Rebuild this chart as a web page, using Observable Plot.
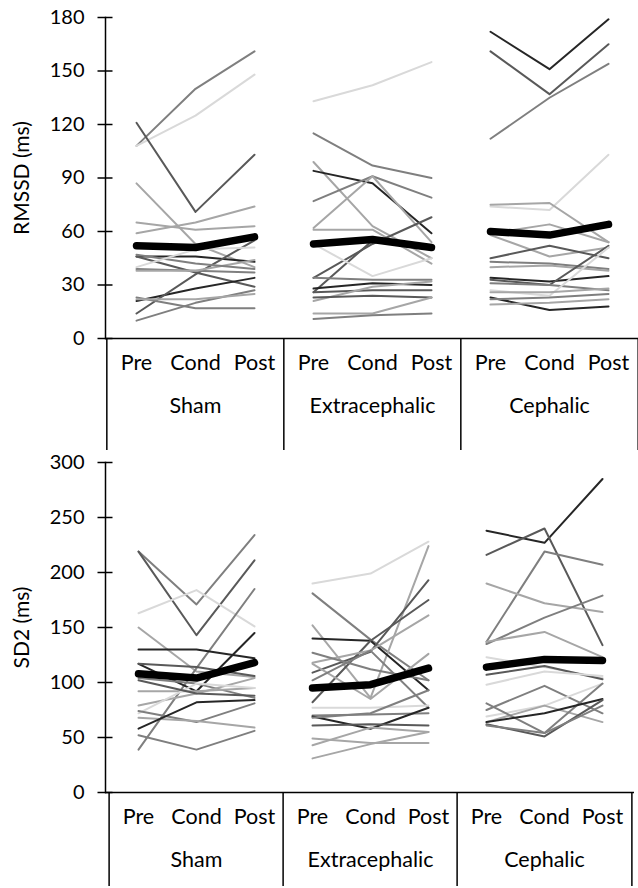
<!DOCTYPE html>
<html>
<head>
<meta charset="utf-8">
<script src="https://cdn.jsdelivr.net/npm/d3@7"></script>
<script src="https://cdn.jsdelivr.net/npm/@observablehq/plot@0.6"></script>
<style>
  html, body { margin: 0; padding: 0; background: #fff; }
  #chart svg { display: block; }
</style>
</head>
<body>
<div id="chart"></div>
<script>
// Stimulation conditions and measurement phases
const groups = ["Sham", "Extracephalic", "Cephalic"];
const phases = ["Pre", "Cond", "Post"];

// RMSSD (ms), one [Pre, Cond, Post] triple per participant
const rmssdSham = [
  [108, 140, 161], [108, 125, 148], [121, 71, 103], [87, 53, 40], [65, 61, 63],
  [59, 65, 74], [46, 46, 43], [46, 37, 29], [21, 28, 34], [14, 36, 55],
  [10, 20, 27], [23, 17, 17], [22, 22, 25], [39, 38, 37], [38, 38, 44],
  [47, 42, 39], [40, 50, 51]
];
const rmssdShamTone = ["m", "v", "d", "l", "l", "l", "k", "d", "k", "d", "m", "m", "l", "m", "l", "m", "v"];

const rmssdExtra = [
  [133, 142, 155], [115, 97, 90], [99, 63, 45], [94, 87, 59], [77, 91, 79],
  [62, 91, 54], [61, 61, 42], [34, 53, 68], [26, 55, 50], [53, 35, 45],
  [34, 33, 33], [28, 31, 30], [26, 27, 27], [21, 29, 32], [23, 24, 23],
  [14, 14, 23], [11, 13, 14]
];
const rmssdExtraTone = ["v", "m", "l", "k", "m", "l", "l", "d", "d", "v", "m", "k", "d", "l", "d", "l", "m"];

const rmssdCeph = [
  [172, 151, 179], [161, 137, 165], [112, 135, 154], [74, 72, 103], [75, 76, 54],
  [59, 64, 54], [58, 46, 51], [45, 52, 45], [43, 42, 39], [40, 41, 38],
  [34, 32, 35], [33, 30, 52], [31, 30, 27], [27, 24, 51], [23, 16, 18],
  [22, 23, 25], [19, 20, 22], [26, 26, 28]
];
const rmssdCephTone = ["k", "d", "m", "v", "l", "l", "l", "d", "m", "l", "k", "d", "m", "v", "k", "m", "l", "l"];

const rmssdMean = [[52, 51, 57], [53, 55.5, 51], [60, 58, 64]];
const rmssdTicks = [0, 30, 60, 90, 120, 150, 180];

// SD2 (ms), one [Pre, Cond, Post] triple per participant
const sd2Sham = [
  [219, 171, 234], [219, 143, 211], [163, 184, 151], [150, 110, 105], [39, 113, 185],
  [130, 130, 122], [117, 92, 145], [117, 114, 106], [104, 99, 86], [92, 92, 95],
  [79, 90, 104], [72, 99, 95], [74, 64, 81], [68, 65, 59], [52, 39, 56],
  [102, 90, 88], [58, 82, 84]
];
const sd2ShamTone = ["m", "d", "v", "l", "m", "k", "k", "d", "m", "l", "l", "v", "m", "l", "m", "d", "k"];

const sd2Extra = [
  [190, 199, 228], [181, 139, 102], [152, 86, 224], [140, 138, 93], [82, 138, 175],
  [109, 128, 193], [118, 129, 161], [127, 112, 102], [117, 85, 126], [102, 129, 77],
  [77, 77, 79], [70, 71, 72], [69, 58, 77], [61, 62, 61], [68, 72, 93],
  [43, 59, 55], [49, 45, 45], [31, 44, 55]
];
const sd2ExtraTone = ["v", "m", "l", "k", "d", "d", "l", "m", "l", "m", "v", "m", "k", "d", "m", "l", "l", "l"];

const sd2Ceph = [
  [238, 227, 285], [216, 240, 134], [137, 219, 207], [190, 172, 164], [135, 159, 179],
  [137, 146, 123], [123, 114, 104], [107, 115, 103], [98, 110, 106], [75, 97, 72],
  [69, 79, 99], [64, 79, 64], [81, 54, 99], [64, 72, 85], [62, 51, 84],
  [61, 54, 79]
];
const sd2CephTone = ["k", "d", "m", "l", "m", "l", "v", "d", "v", "m", "v", "l", "m", "k", "d", "m"];

const sd2Mean = [[108, 104, 118], [95, 98, 113], [114, 121, 120]];
const sd2Ticks = [0, 50, 100, 150, 200, 250, 300];

// Gray shades for the individual participant lines
const toneColor = { k: "#262626", d: "#595959", m: "#7f7f7f", l: "#a6a6a6", v: "#d9d9d9" };

const keys = groups.flatMap(g => phases.map(p => `${g}|${p}`));

function panel({ title, ticks, series, tones, means, height, marginTop, marginBottom, marginRight }) {
  const subjects = [];
  groups.forEach((g, gi) =>
    series[gi].forEach((vals, si) =>
      vals.forEach((v, pi) =>
        subjects.push({ key: `${g}|${phases[pi]}`, id: `${g}-${si}`, value: v, tone: tones[gi][si] }))));
  const meanRows = groups.flatMap((g, gi) =>
    means[gi].map((v, pi) => ({ key: `${g}|${phases[pi]}`, group: g, value: v })));

  const width = 638, marginLeft = 105;
  const half = (width - marginRight - marginLeft) / keys.length / 2;
  const dividerLength = marginBottom - 2;

  return Plot.plot({
    width, height, marginTop, marginBottom, marginLeft, marginRight,
    style: { fontFamily: "Lato, sans-serif", fontSize: "20px", color: "#000", background: "#fff", overflow: "visible" },
    x: { type: "point", domain: keys, padding: 0.5 },
    y: { domain: [0, ticks[ticks.length - 1]] },
    color: { type: "identity" },
    marks: [
      Plot.line(subjects, { x: "key", y: "value", z: "id", stroke: d => toneColor[d.tone], strokeWidth: 2 }),
      Plot.line(meanRows, { x: "key", y: "value", z: "group", stroke: "#000", strokeWidth: 7.5, strokeLinecap: "round", strokeLinejoin: "round" }),
      Plot.frame({ anchor: "left", stroke: "#000", strokeWidth: 1.5 }),
      Plot.ruleY([0], { stroke: "#000", strokeWidth: 1.5 }),
      Plot.axisY({ ticks, tickSize: 0, tickPadding: 21, label: null, fontSize: 20 }),
      Plot.axisY({ ticks, tickSize: 15, dx: 7.5, tickFormat: () => "", label: null, strokeWidth: 1.5 }),
      Plot.axisX({ ticks: groups.map(g => `${g}|Pre`), tickSize: dividerLength, dx: -half, tickFormat: () => "", label: null, strokeWidth: 1.5 }),
      Plot.axisX({ ticks: ["Cephalic|Post"], tickSize: dividerLength, dx: half, tickFormat: () => "", label: null, strokeWidth: 1.5 }),
      Plot.text(keys, { x: d => d, text: d => d.split("|")[1], frameAnchor: "bottom", dy: 31, fontSize: 21.5 }),
      Plot.text(groups, { x: g => `${g}|Cond`, text: d => d, frameAnchor: "bottom", dy: 74, fontSize: 21.5 }),
      Plot.text([title], { frameAnchor: "left", textAnchor: "middle", rotate: -90, dx: -83, fontSize: 21 })
    ]
  });
}

const chart = document.getElementById("chart");
chart.append(panel({
  title: "RMSSD (ms)", ticks: rmssdTicks,
  series: [rmssdSham, rmssdExtra, rmssdCeph],
  tones: [rmssdShamTone, rmssdExtraTone, rmssdCephTone],
  means: rmssdMean,
  height: 452, marginTop: 17, marginBottom: 114, marginRight: -1
}));
chart.append(panel({
  title: "SD2 (ms)", ticks: sd2Ticks,
  series: [sd2Sham, sd2Extra, sd2Ceph],
  tones: [sd2ShamTone, sd2ExtraTone, sd2CephTone],
  means: sd2Mean,
  height: 436, marginTop: 10, marginBottom: 96, marginRight: 4
}));
</script>
</body>
</html>
